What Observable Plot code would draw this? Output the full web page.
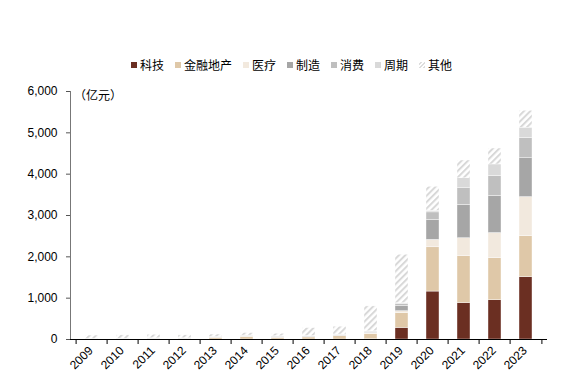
<!DOCTYPE html>
<html><head><meta charset="utf-8">
<script src="https://cdn.jsdelivr.net/npm/d3@7"></script>
<script src="https://cdn.jsdelivr.net/npm/@observablehq/plot@0.6"></script>
<style>
body{margin:0;background:#fff;font-family:"Liberation Sans","Noto Sans CJK SC",sans-serif;}
#wrap{position:relative;width:566px;height:392px;}
#legend{height:80px;position:relative;}
#legend .items{position:absolute;left:131px;top:58px;display:flex;gap:11px;font-size:12px;color:#000;font-family:"Noto Sans CJK SC",sans-serif;line-height:14px;}
#legend .it{display:flex;align-items:center;gap:3px;}
#legend .sw{width:6px;height:6px;display:inline-block;}
#unit{position:absolute;left:74px;top:86px;font-size:12px;font-family:"Noto Sans CJK SC",sans-serif;}
</style></head>
<body><div id="wrap"><div id="legend"><div class="items"></div></div><div id="chart"></div><div id="unit">（亿元）</div></div>
<script>
const years = ["2009","2010","2011","2012","2013","2014","2015","2016","2017","2018","2019","2020","2021","2022","2023"];
const sectors = ["科技","金融地产","医疗","制造","消费","周期","其他"];
const colors = ["#6B2F22","#DFC8A8","#F2E9DE","#A6A6A6","#BFBFBF","#D9D9D9","url(#hatch)"];
const tech    = [0,0,0,0,0,0,0,0,0,5,280,1160,880,950,1510];
const finance = [5,5,10,10,40,60,40,50,80,130,355,1070,1135,1020,990];
const health  = [0,0,5,5,5,10,5,5,10,10,50,180,435,605,945];
const manuf   = [0,5,5,5,5,5,10,10,10,20,130,480,805,895,940];
const consum  = [5,5,5,5,5,10,10,10,10,20,45,185,405,485,490];
const cycle   = [5,5,5,5,10,10,15,10,10,15,20,40,240,280,250];
const other   = [80,80,85,70,55,60,60,190,190,600,1170,580,430,385,410];
const yTicks = [0,1000,2000,3000,4000,5000,6000];

const series = [tech,finance,health,manuf,consum,cycle,other];
const data = [];
years.forEach((y,i)=>sectors.forEach((s,j)=>data.push({year:y,sector:s,value:series[j][i]})));

const W=566, ML=70, MR=19;
const step=(W-ML-MR)/years.length;

const plot = Plot.plot({
  width: W, height: 312,
  marginTop: 11, marginBottom: 53, marginLeft: ML, marginRight: MR,
  style:{fontFamily:'"Liberation Sans",Arial,sans-serif',fontSize:"12px",color:"#000"},
  x:{domain:years,paddingInner:0.58,paddingOuter:0.29,label:null},
  y:{domain:[0,6000],label:null},
  color:{domain:sectors,range:colors},
  marks:[
    Plot.barY(data,{x:"year",y:"value",fill:"sector",order:sectors,stroke:"#fff",strokeWidth:0.4}),
    Plot.axisY({ticks:yTicks,tickFormat:d3.format(","),tickSize:4,tickPadding:9,stroke:"#555",label:null,fontSize:12}),
    Plot.frame({anchor:"left",stroke:"#777"}),
    Plot.axisX({ticks:years,tickSize:5,tickFormat:()=>"",dx:-step/2,stroke:"#000",label:null}),
    Plot.axisX({ticks:["2023"],tickSize:5,tickFormat:()=>"",dx:step/2,stroke:"#000",label:null}),
    Plot.axisX({ticks:years,tickSize:0,tickPadding:9,tickRotate:-45,label:null,fontSize:12,dx:-1}),
    Plot.ruleY([0],{stroke:"#000"})
  ]
});
const defs = document.createElementNS("http://www.w3.org/2000/svg","defs");
defs.innerHTML = '<pattern id="hatch" patternUnits="userSpaceOnUse" width="4.5" height="4.5" patternTransform="rotate(45)"><rect width="4.5" height="4.5" fill="#fff"/><rect width="2" height="4.5" fill="#d8d8d8"/></pattern>';
plot.insertBefore(defs, plot.firstChild);
document.getElementById("chart").appendChild(plot);

const items = document.querySelector("#legend .items");
sectors.forEach((s,j)=>{
  const it=document.createElement("span"); it.className="it";
  const sw=document.createElement("span"); sw.className="sw";
  if(j===6){sw.style.background="repeating-linear-gradient(-45deg,#ddd 0 1.5px,#fff 1.5px 3px)";}
  else sw.style.background=colors[j];
  const t=document.createElement("span"); t.textContent=s;
  it.appendChild(sw); it.appendChild(t); items.appendChild(it);
});
</script></body></html>
